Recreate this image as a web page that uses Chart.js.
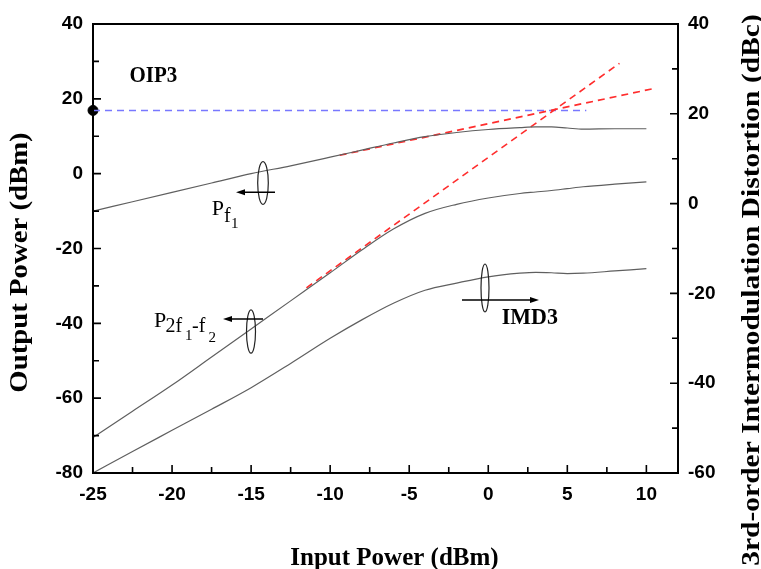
<!DOCTYPE html>
<html>
<head>
<meta charset="utf-8">
<script src="https://cdn.jsdelivr.net/npm/chart.js@4.4.0/dist/chart.umd.min.js"></script>
<style>
  html, body { margin: 0; padding: 0; background: #fff; }
  #grafico { width: 761px; height: 569px; }
</style>
</head>
<body>
<div id="grafico"><canvas id="myChart" width="761" height="569"></canvas></div>
<script>
// valores
const potenciaEntrada = [-25, -22.5, -20, -17.5, -15, -12.5, -10, -8, -6, -4, -2, 0, 2, 3, 4, 5, 6, 8, 10];
const potenciaF1 = [-10, -7.5, -5, -2.5, 0, 2.1, 4.4, 6.3, 8.2, 9.9, 11.0, 11.8, 12.3, 12.5, 12.5, 12.2, 11.9, 12.0, 12.0];
const potencia2f1f2 = [-70.5, -63.5, -56.5, -49, -41.5, -34, -26.5, -20.4, -14.8, -10.6, -8.2, -6.5, -5.3, -4.9, -4.5, -4.0, -3.5, -2.8, -2.2];
const imd3 = [-60, -55.2, -50.5, -45.8, -41, -35.6, -30, -25.9, -22.2, -19.3, -17.7, -16.3, -15.5, -15.3, -15.4, -15.6, -15.5, -15.0, -14.5];

// rectas extrapoladas (extremos)
const rectaFundX = [-9.4, 10.5];
const rectaFundY = [4.9, 22.8];
const rectaTercerX = [-11.5, 8.3];
const rectaTercerY = [-30.5, 29.5];
const oip3X = [-25, 6.2];
const oip3Y = [16.9, 16.9];

const ticksX = [-25, -20, -15, -10, -5, 0, 5, 10];
const ticksIzq = [-80, -60, -40, -20, 0, 20, 40];
const ticksDer = [-60, -40, -20, 0, 20, 40];

function puntos(xs, ys) {
  return xs.map((x, i) => ({ x: x, y: ys[i] }));
}

const fuenteTicks = { family: "Liberation Sans", size: 19, weight: "bold" };

function curva(data, eje) {
  return {
    data: data,
    yAxisID: eje,
    borderColor: "rgb(95,95,95)",
    borderWidth: 1.2,
    pointRadius: 0,
    tension: 0.3,
    cubicInterpolationMode: "monotone",
    fill: false
  };
}
function discontinua(data, color) {
  return {
    data: data,
    yAxisID: "y",
    borderColor: color,
    borderWidth: 1.6,
    borderDash: [7, 5],
    pointRadius: 0,
    tension: 0,
    fill: false
  };
}

const datasets = [
  curva(puntos(potenciaEntrada, potenciaF1), "y"),
  curva(puntos(potenciaEntrada, potencia2f1f2), "y"),
  curva(puntos(potenciaEntrada, imd3), "y1"),
  discontinua(puntos(rectaFundX, rectaFundY), "rgb(255,45,45)"),
  discontinua(puntos(rectaTercerX, rectaTercerY), "rgb(255,45,45)"),
  discontinua(puntos(oip3X, oip3Y), "rgb(120,120,255)"),
  {
    data: [{ x: oip3X[0], y: oip3Y[0] }],
    yAxisID: "y",
    showLine: false,
    pointRadius: 5,
    pointBackgroundColor: "#000",
    pointBorderColor: "#000",
    clip: false
  }
];

function texto(ctx, s, x, y, size, op) {
  op = op || {};
  ctx.save();
  ctx.font = (op.bold ? "bold " : "") + size + 'px "Liberation Serif"';
  ctx.translate(x, y);
  if (op.rot) ctx.rotate(op.rot);
  ctx.scale(op.sx || 1, op.sy || 1);
  ctx.textAlign = op.align || "left";
  ctx.textBaseline = "alphabetic";
  ctx.fillStyle = "#000";
  ctx.fillText(s, 0, 0);
  ctx.restore();
}

function flecha(ctx, x1, x2, y) {
  const dir = x2 > x1 ? 1 : -1;
  ctx.beginPath();
  ctx.moveTo(x1, y);
  ctx.lineTo(x2 - dir * 6, y);
  ctx.stroke();
  ctx.beginPath();
  ctx.moveTo(x2, y);
  ctx.lineTo(x2 - dir * 9, y - 3);
  ctx.lineTo(x2 - dir * 9, y + 3);
  ctx.closePath();
  ctx.fill();
}

function elipse(ctx, cx, cy, rx, ry) {
  ctx.beginPath();
  ctx.ellipse(cx, cy, rx, ry, 0, 0, Math.PI * 2);
  ctx.stroke();
}

const marco = {
  id: "marco",
  afterDatasetsDraw(chart) {
    const ctx = chart.ctx;
    const a = chart.chartArea;
    const sx = chart.scales.x, sy = chart.scales.y, sy1 = chart.scales.y1;
    ctx.save();
    ctx.strokeStyle = "#000";
    ctx.fillStyle = "#000";
    ctx.lineWidth = 2;
    ctx.strokeRect(a.left, a.top, a.right - a.left, a.bottom - a.top);

    // marcas hacia adentro
    ctx.lineWidth = 1.6;
    ctx.beginPath();
    for (let v = -25; v <= 12; v += 2.5) {
      const px = sx.getPixelForValue(v);
      const largo = v % 5 === 0 ? 8 : 6;
      ctx.moveTo(px, a.bottom);
      ctx.lineTo(px, a.bottom - largo);
    }
    for (let v = -80; v <= 40; v += 10) {
      const py = sy.getPixelForValue(v);
      const largo = v % 20 === 0 ? 8 : 6;
      ctx.moveTo(a.left, py);
      ctx.lineTo(a.left + largo, py);
    }
    for (let v = -60; v <= 40; v += 10) {
      const py = sy1.getPixelForValue(v);
      const largo = v % 20 === 0 ? 8 : 6;
      ctx.moveTo(a.right, py);
      ctx.lineTo(a.right - largo, py);
    }
    ctx.stroke();

    // anotaciones
    ctx.strokeStyle = "#222";
    ctx.lineWidth = 1.2;
    elipse(ctx, 263, 183, 5.3, 21.3);
    elipse(ctx, 251, 331.5, 4.5, 21.7);
    elipse(ctx, 485, 288, 4, 24);
    ctx.lineWidth = 1.5;
    ctx.strokeStyle = "#000";
    flecha(ctx, 275, 236, 192.3);
    flecha(ctx, 263, 223, 319);
    flecha(ctx, 462, 539, 300);

    texto(ctx, "OIP3", 153.3, 81.7, 21, { bold: true, align: "center", sy: 1.05 });
    texto(ctx, "IMD3", 501.7, 324.3, 22, { bold: true, sy: 1.08 });

    texto(ctx, "P", 211.7, 215, 22);
    texto(ctx, "f", 224, 221.7, 20);
    texto(ctx, "1", 231, 228.3, 15);

    texto(ctx, "P", 154, 327, 22);
    texto(ctx, "2f", 165.5, 332, 20);
    texto(ctx, "1", 185, 340, 15);
    texto(ctx, "-f", 192, 332, 20);
    texto(ctx, "2", 208.5, 341.7, 15);

    // titulos de ejes
    texto(ctx, "Input Power (dBm)", (a.left + a.right) / 2 + 9, 565, 25, { bold: true, align: "center" });
    texto(ctx, "Output Power (dBm)", 27, 262.5, 25, { bold: true, align: "center", rot: -Math.PI / 2, sx: 1.15 });
    texto(ctx, "3rd-order Intermodulation Distortion (dBc)", 759, 290, 25, { bold: true, align: "center", rot: -Math.PI / 2, sx: 1.18 });
    ctx.restore();
  }
};

const config = {
  type: "line",
  data: { datasets },
  options: {
    responsive: false,
    animation: false,
    layout: { padding: { top: 24, left: 0, right: 0, bottom: 0 } },
    plugins: { legend: { display: false }, tooltip: { enabled: false } },
    scales: {
      x: {
        type: "linear",
        min: -25,
        max: 12,
        grid: { display: false, drawTicks: false },
        border: { display: false },
        afterBuildTicks: (s) => { s.ticks = ticksX.map((v) => ({ value: v })); },
        ticks: { font: fuenteTicks, color: "#000", padding: 10, maxRotation: 0, autoSkip: false },
        afterFit: (s) => { s.height = 96; }
      },
      y: {
        position: "left",
        min: -80,
        max: 40,
        grid: { display: false, drawTicks: false },
        border: { display: false },
        afterBuildTicks: (s) => { s.ticks = ticksIzq.map((v) => ({ value: v })); },
        ticks: { font: fuenteTicks, color: "#000", padding: 10 },
        afterFit: (s) => { s.width = 93; }
      },
      y1: {
        position: "right",
        min: -60,
        max: 40,
        grid: { display: false, drawTicks: false },
        border: { display: false },
        afterBuildTicks: (s) => { s.ticks = ticksDer.map((v) => ({ value: v })); },
        ticks: { font: fuenteTicks, color: "#000", padding: 10 },
        afterFit: (s) => { s.width = 83; }
      }
    }
  },
  plugins: [marco]
};

const myChart = document.getElementById("myChart");
new Chart(myChart, config);
</script>
</body>
</html>
